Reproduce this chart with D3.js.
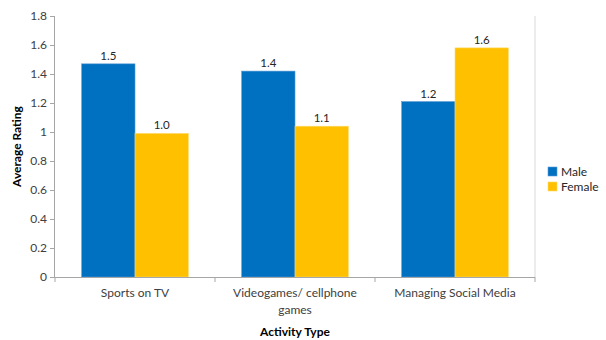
<!DOCTYPE html>
<html><head><meta charset="utf-8">
<script src="https://cdn.jsdelivr.net/npm/d3@7"></script>
<style>body{margin:0;background:#fff}svg{font-family:Lato,"Open Sans",sans-serif}</style>
</head><body>
<svg id="c" width="606" height="340"></svg>
<script>
const categories = ["Sports on TV", "Videogames/ cellphone games", "Managing Social Media"];
const series = ["Male", "Female"];
const maleValues = [1.47, 1.42, 1.21];
const femaleValues = [0.99, 1.04, 1.58];
const maleLabels = ["1.5", "1.4", "1.2"];
const femaleLabels = ["1.0", "1.1", "1.6"];
const yTicks = [0, 0.2, 0.4, 0.6, 0.8, 1, 1.2, 1.4, 1.6, 1.8];
const colors = ["#0070C0", "#FFC000"];

const svg = d3.select("#c");
const L = 55, R = 535, T = 16, B = 277;
const x = d3.scaleBand().domain(categories).range([L, R]).paddingInner(0).paddingOuter(0);
const y = d3.scaleLinear().domain([0, 1.8]).range([B, T]);
const xs = d3.scaleBand().domain(series).range([0, x.bandwidth()]).paddingInner(0).paddingOuter(0.5);

const axisColor = "#A6A6A6";
// right frame line
svg.append("line").attr("x1", R).attr("x2", R).attr("y1", T).attr("y2", B).attr("stroke", "#D9D9D9");

const rows = categories.map((c, i) => ({c, vals: [maleValues[i], femaleValues[i]], labs: [maleLabels[i], femaleLabels[i]]}));
const g = svg.append("g").selectAll("g").data(rows).join("g").attr("transform", d => `translate(${x(d.c)},0)`);
g.selectAll("rect").data(d => d.vals.map((v, j) => ({s: series[j], v, j})))
  .join("rect")
  .attr("x", d => xs(d.s)).attr("width", xs.bandwidth())
  .attr("y", d => y(d.v)).attr("height", d => B - y(d.v))
  .attr("fill", d => colors[d.j]).attr("stroke", d => d.j === 0 ? "#5B9BD5" : "#FFD966").attr("stroke-width", 0.6);
g.selectAll("text").data(d => d.vals.map((v, j) => ({s: series[j], v, j, l: d.labs[j]})))
  .join("text")
  .attr("x", d => xs(d.s) + xs.bandwidth() / 2).attr("y", d => y(d.v) - 4)
  .attr("text-anchor", "middle").attr("font-size", 11.5).attr("fill", "#262626").text(d => d.l);

// y axis
const ya = svg.append("g").attr("transform", `translate(${L},0)`)
  .call(d3.axisLeft(y).tickValues(yTicks).tickSize(5).tickPadding(3).tickFormat(d => d3.format("")(d)));
ya.select(".domain").attr("stroke", axisColor).attr("d", `M-0.5,${T}V${B}`);
ya.selectAll(".tick line").attr("stroke", axisColor);
ya.selectAll(".tick text").attr("font-size", 12).attr("fill", "#404040").attr("font-family", "Lato,'Open Sans',sans-serif");

// x axis
const xa = svg.append("g").attr("transform", `translate(0,${B})`)
  .call(d3.axisBottom(x).tickSize(0).tickFormat(""));
xa.select(".domain").attr("stroke", axisColor).attr("d", `M${L - 5},0.5H${R}`);
xa.selectAll(".tick line").remove();
const bounds = [L].concat(categories.map(c => x(c) + x.bandwidth()));
xa.selectAll(".bt").data(bounds).join("line").attr("class", "bt")
  .attr("x1", d => d).attr("x2", d => d).attr("y1", 0).attr("y2", 5).attr("stroke", axisColor);

// category labels with wrapping
const catLines = [["Sports on TV"], ["Videogames/ cellphone", "games"], ["Managing Social Media"]];
categories.forEach((c, i) => {
  const t = svg.append("text").attr("x", x(c) + x.bandwidth() / 2).attr("y", 297)
    .attr("text-anchor", "middle").attr("font-size", 12).attr("fill", "#404040");
  catLines[i].forEach((ln, k) => t.append("tspan").attr("x", x(c) + x.bandwidth() / 2).attr("dy", k === 0 ? 0 : 17).text(ln));
});

// axis titles
svg.append("text").attr("x", (L + R) / 2).attr("y", 336).attr("text-anchor", "middle")
  .attr("font-size", 12).attr("font-weight", "bold").attr("fill", "#000").text("Activity Type");
svg.append("text").attr("transform", `translate(21,${(T + B) / 2}) rotate(-90)`).attr("text-anchor", "middle")
  .attr("font-size", 12).attr("font-weight", "bold").attr("fill", "#000").text("Average Rating");

// legend
const lg = svg.append("g").attr("transform", "translate(548,167)");
series.forEach((s, i) => {
  lg.append("rect").attr("x", 0).attr("y", i * 15).attr("width", 9).attr("height", 9).attr("fill", colors[i])
    .attr("stroke", i === 0 ? "#5B9BD5" : "#FFD966").attr("stroke-width", 0.6);
  lg.append("text").attr("x", 13).attr("y", i * 15 + 9).attr("font-size", 12).attr("fill", "#262626").text(s);
});
</script>
</body></html>
